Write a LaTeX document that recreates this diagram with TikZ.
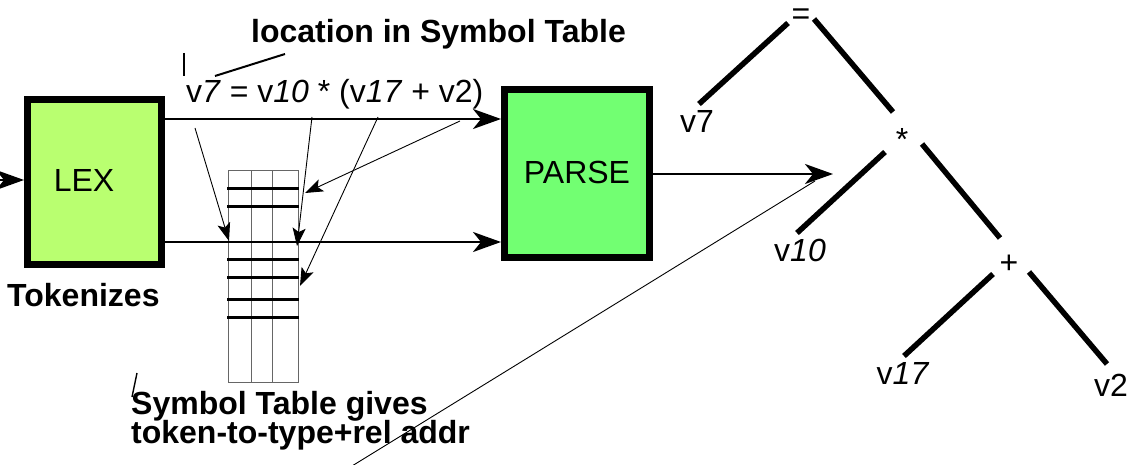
\documentclass[tikz,border=0pt]{standalone}
\usepackage{fontspec}
\setmainfont{Liberation Sans}
\usetikzlibrary{arrows.meta,calc}
\definecolor{lexgreen}{RGB}{185,255,112}
\definecolor{parsegreen}{RGB}{114,255,114}
\begin{document}
\begin{tikzpicture}[x=1pt,y=-1pt,
  box/.style={draw=black, line width=7pt, inner sep=0pt},
  bigarrow/.style={line width=2.6pt, -{Stealth[length=28pt,width=20pt,inset=8pt]}},
  thinarrow/.style={line width=0.9pt, -{Stealth[length=18pt,width=13pt,inset=4pt]}},
  thinline/.style={line width=0.9pt},
  tickline/.style={line width=2pt},
  treeedge/.style={line width=5.5pt},
  gridline/.style={draw=black!60, line width=1pt},
  rowline/.style={line width=3pt},
  txt/.style={font=\fontsize{32}{38}\selectfont, inner sep=0pt},
  btxt/.style={font=\fontsize{32}{38}\selectfont\bfseries, inner sep=0pt},
]
\useasboundingbox (0,0) rectangle (1144,465);

% boxes
\node[box, fill=lexgreen, minimum width=134pt, minimum height=165pt] (lex) at (94.5,182) {};
\node[txt, anchor=base] (lextxt) at (84,192) {LEX};
\node[box, fill=parsegreen, minimum width=145pt, minimum height=168pt] (parse) at (577,173.5) {};
\node[txt, anchor=base] (parsetxt) at (577,184) {PARSE};

% labels
\node[btxt, anchor=base west] (tok) at (7,307) {Tokenizes};
\node[btxt, anchor=base west] (loc) at (251,43) {location in Symbol Table};
\node[btxt, anchor=base west] (st1) at (131,414) {Symbol Table gives};
\node[btxt, anchor=base west] (st2) at (131,443) {token-to-type+rel addr};
\node[txt, anchor=base west] (expr) at (186,103) {v\textit{7} = v\textit{10} * (v\textit{17} + v2)};

% small marks
\coordinate (tk1) at (184,53); \coordinate (tk2) at (184,76);
\draw[tickline] (tk1) -- (tk2);
\coordinate (lc1) at (215,76); \coordinate (lc2) at (285,54);
\draw[tickline] (lc1) -- (lc2);
\coordinate (sm1) at (137,373); \coordinate (sm2) at (132,397);
\draw[thinline, line width=1.4pt] (sm1) -- (sm2);

% symbol table
\node[gridline, draw, minimum width=70pt, minimum height=211pt, inner sep=0pt, outer sep=0pt] (symtab) at (263,276.5) {};
\draw[gridline] (251,171) -- (251,382);
\draw[gridline] (272,171) -- (272,382);
\foreach \yy in {189,207,260,278,300,318}
  \draw[rowline] (227,\yy) -- (299,\yy);

% input arrow
\coordinate (in) at (-10,180);
\draw[bigarrow] (in) -- (lex.west |- in);

% main arrows
\coordinate (a1) at (0,119);
\coordinate (a2) at (0,242);
\draw[bigarrow] (lex.east |- a1) -- (parse.west |- a1);
\draw[bigarrow] (lex.east |- a2) -- (parse.west |- a2);
\coordinate (out) at (833,174);
\draw[bigarrow] (parse.east |- out) -- (out);

% thin arrows from expression to symbol table
\coordinate (p1) at (195,128); \coordinate (q1) at (229,241);
\coordinate (p2) at (312,117); \coordinate (q2) at (297,246);
\coordinate (p3) at (378,117); \coordinate (q3) at (300,286);
\coordinate (p4) at (460,121); \coordinate (q4) at (305,193);
\draw[thinarrow] (p1) -- (q1);
\draw[thinarrow] (p2) -- (q2);
\draw[thinarrow] (p3) -- (q3);
\draw[thinarrow] (p4) -- (q4);

% long thin line
\coordinate (l1) at (352,466); \coordinate (l2) at (815,181);
\draw[thinline] (l1) -- (l2);

% tree
\node[txt, anchor=base] (eq) at (801,25) {=};
\node[txt, anchor=base] (mul) at (902,151) {*};
\node[txt, anchor=base] (plus) at (1009,274) {+};
\node[txt, anchor=base] (tv7) at (697,133) {v7};
\node[txt, anchor=base] (tv10) at (800,262) {v\textit{10}};
\node[txt, anchor=base] (tv17) at (903,384) {v\textit{17}};
\node[txt, anchor=base] (tv2) at (1111,396) {v2};

\coordinate (e1a) at (788,23);  \coordinate (e1b) at (699,104);
\coordinate (e2a) at (814,19);  \coordinate (e2b) at (893,112);
\coordinate (e3a) at (885,152); \coordinate (e3b) at (797,233);
\coordinate (e4a) at (922,144); \coordinate (e4b) at (1000,238);
\coordinate (e5a) at (993,274); \coordinate (e5b) at (904,356);
\coordinate (e6a) at (1029,272); \coordinate (e6b) at (1107,364);
\draw[treeedge] (e1a) -- (e1b);
\draw[treeedge] (e2a) -- (e2b);
\draw[treeedge] (e3a) -- (e3b);
\draw[treeedge] (e4a) -- (e4b);
\draw[treeedge] (e5a) -- (e5b);
\draw[treeedge] (e6a) -- (e6b);
\end{tikzpicture}
\end{document}
